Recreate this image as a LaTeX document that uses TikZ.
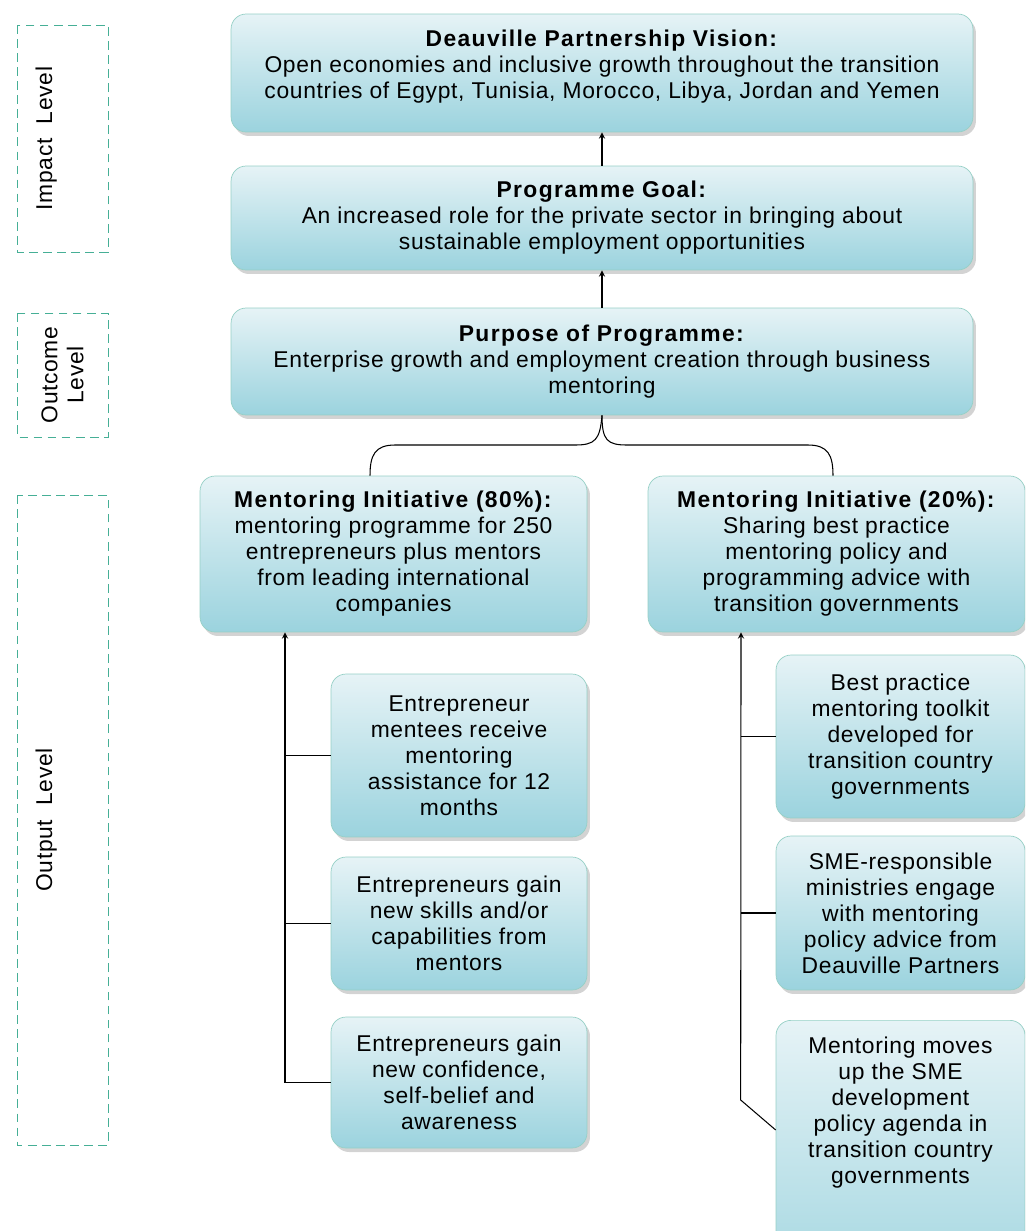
\documentclass[tikz,border=0pt]{standalone}
\usepackage{fontspec}
\setmainfont{Liberation Sans}[LetterSpace=3, BoldFeatures={LetterSpace=6}]
\usetikzlibrary{shadows}
\definecolor{boxtop}{RGB}{230,243,246}
\definecolor{boxbottom}{RGB}{155,211,222}
\definecolor{boxedge}{RGB}{150,208,198}
\definecolor{levelline}{RGB}{70,175,150}

\begin{document}
\begin{tikzpicture}[x=0.02cm, y=-0.02cm, semithick, >=stealth,
    stagebox/.style={rectangle, rounded corners=0.3cm, draw=boxedge, thin,
      top color=boxtop, bottom color=boxbottom,
      drop shadow={opacity=0.35, shadow xshift=0.06cm, shadow yshift=-0.08cm},
      align=center, inner sep=0pt, font=\fontsize{13}{14.8}\selectfont},
    levelbox/.style={rectangle, draw=levelline, thin, dash pattern=on 5pt off 3pt,
      rotate=90, align=center, font=\fontsize{13}{14.8}\selectfont}]
        \useasboundingbox (0,0) rectangle (1025,1231);
        \clip (0,0) rectangle (1025,1231);

        % レベルの枠
        \node[levelbox, minimum width=4.54cm, minimum height=1.82cm, text height=0.33cm, text depth=0.75cm] (impact) at (62.5,138.5) {Impact~~Level};
        \node[levelbox, minimum width=2.48cm, minimum height=1.82cm] (outcome) at (62.5,375) {Outcome\\Level};
        \node[levelbox, minimum width=13cm, minimum height=1.82cm, text height=0.33cm, text depth=0.75cm] (output) at (62.5,820) {Output~~Level};

        % ノード（目標・成果）の定義
        \node[stagebox, minimum width=14.84cm, minimum height=2.36cm, text depth=0.37cm] (vision) at (602,73)
            {\textbf{Deauville Partnership Vision:}\\Open economies and inclusive growth throughout the transition\\countries of Egypt, Tunisia, Morocco, Libya, Jordan and Yemen};
        \node[stagebox, minimum width=14.84cm, minimum height=2.08cm] (goal) at (602,218)
            {\textbf{Programme Goal:}\\An increased role for the private sector in bringing about\\sustainable employment opportunities};
        \node[stagebox, minimum width=14.84cm, minimum height=2.14cm] (purpose) at (602,361.5)
            {\textbf{Purpose of Programme:}\\Enterprise growth and employment creation through business\\mentoring};
        \node[stagebox, minimum width=7.74cm, minimum height=3.12cm] (i80) at (393.5,554)
            {\textbf{Mentoring Initiative (80\%):}\\mentoring programme for 250\\entrepreneurs plus mentors\\from leading international\\companies};
        \node[stagebox, minimum width=7.54cm, minimum height=3.12cm] (i20) at (836.5,554)
            {\textbf{Mentoring Initiative (20\%):}\\Sharing best practice\\mentoring policy and\\programming advice with\\transition governments};

        \node[stagebox, minimum width=5.12cm, minimum height=3.26cm] (L1) at (459,755.5)
            {Entrepreneur\\mentees receive\\mentoring\\assistance for 12\\months};
        \node[stagebox, minimum width=5.12cm, minimum height=2.66cm] (L2) at (459,923.5)
            {Entrepreneurs gain\\new skills and/or\\capabilities from\\mentors};
        \node[stagebox, minimum width=5.12cm, minimum height=2.62cm] (L3) at (459,1082.5)
            {Entrepreneurs gain\\new confidence,\\self-belief and\\awareness};

        \node[stagebox, minimum width=4.98cm, minimum height=3.26cm] (R1) at (900.5,736.5)
            {Best practice\\mentoring toolkit\\developed for\\transition country\\governments};
        \node[stagebox, minimum width=4.98cm, minimum height=3.08cm] (R2) at (900.5,913)
            {SME-responsible\\ministries engage\\with mentoring\\policy advice from\\Deauville Partners};
        \node[stagebox, minimum width=4.98cm, inner ysep=0.34cm, text depth=2.4cm, anchor=north] (R3) at (900.5,1020)
            {Mentoring moves\\up the SME\\development\\policy agenda in\\transition country\\governments};

        % 矢印の描画
        \draw[->] (goal.north) -- (vision.south);
        \draw[->] (purpose.north) -- (goal.south);
        \draw (purpose.south) .. controls (600,440) and (595,445) .. (575,445) -- (395,445)
            .. controls (375,445) and (370,455) .. ([xshift=-0.47cm]i80.north);
        \draw (purpose.south) .. controls (602,440) and (607,445) .. (627,445) -- (808,445)
            .. controls (828,445) and (833,455) .. ([xshift=-0.07cm]i20.north);

        \coordinate (lbus) at ([xshift=-2.17cm]i80.south);
        \draw[->] (L3.west) -| (lbus);
        \draw (L1.west) -- (L1.west -| lbus);
        \draw (L2.west) -- (L2.west -| lbus);

        \coordinate (rbus) at ([xshift=-1.91cm]i20.south);
        \draw[->] ([yshift=-2.2cm]R3.north west) -- ++(-35,-30) -- (rbus);
        \draw (R1.west) -- (R1.west -| rbus);
        \draw (R2.west) -- (R2.west -| rbus);
    \end{tikzpicture}
\end{document}
